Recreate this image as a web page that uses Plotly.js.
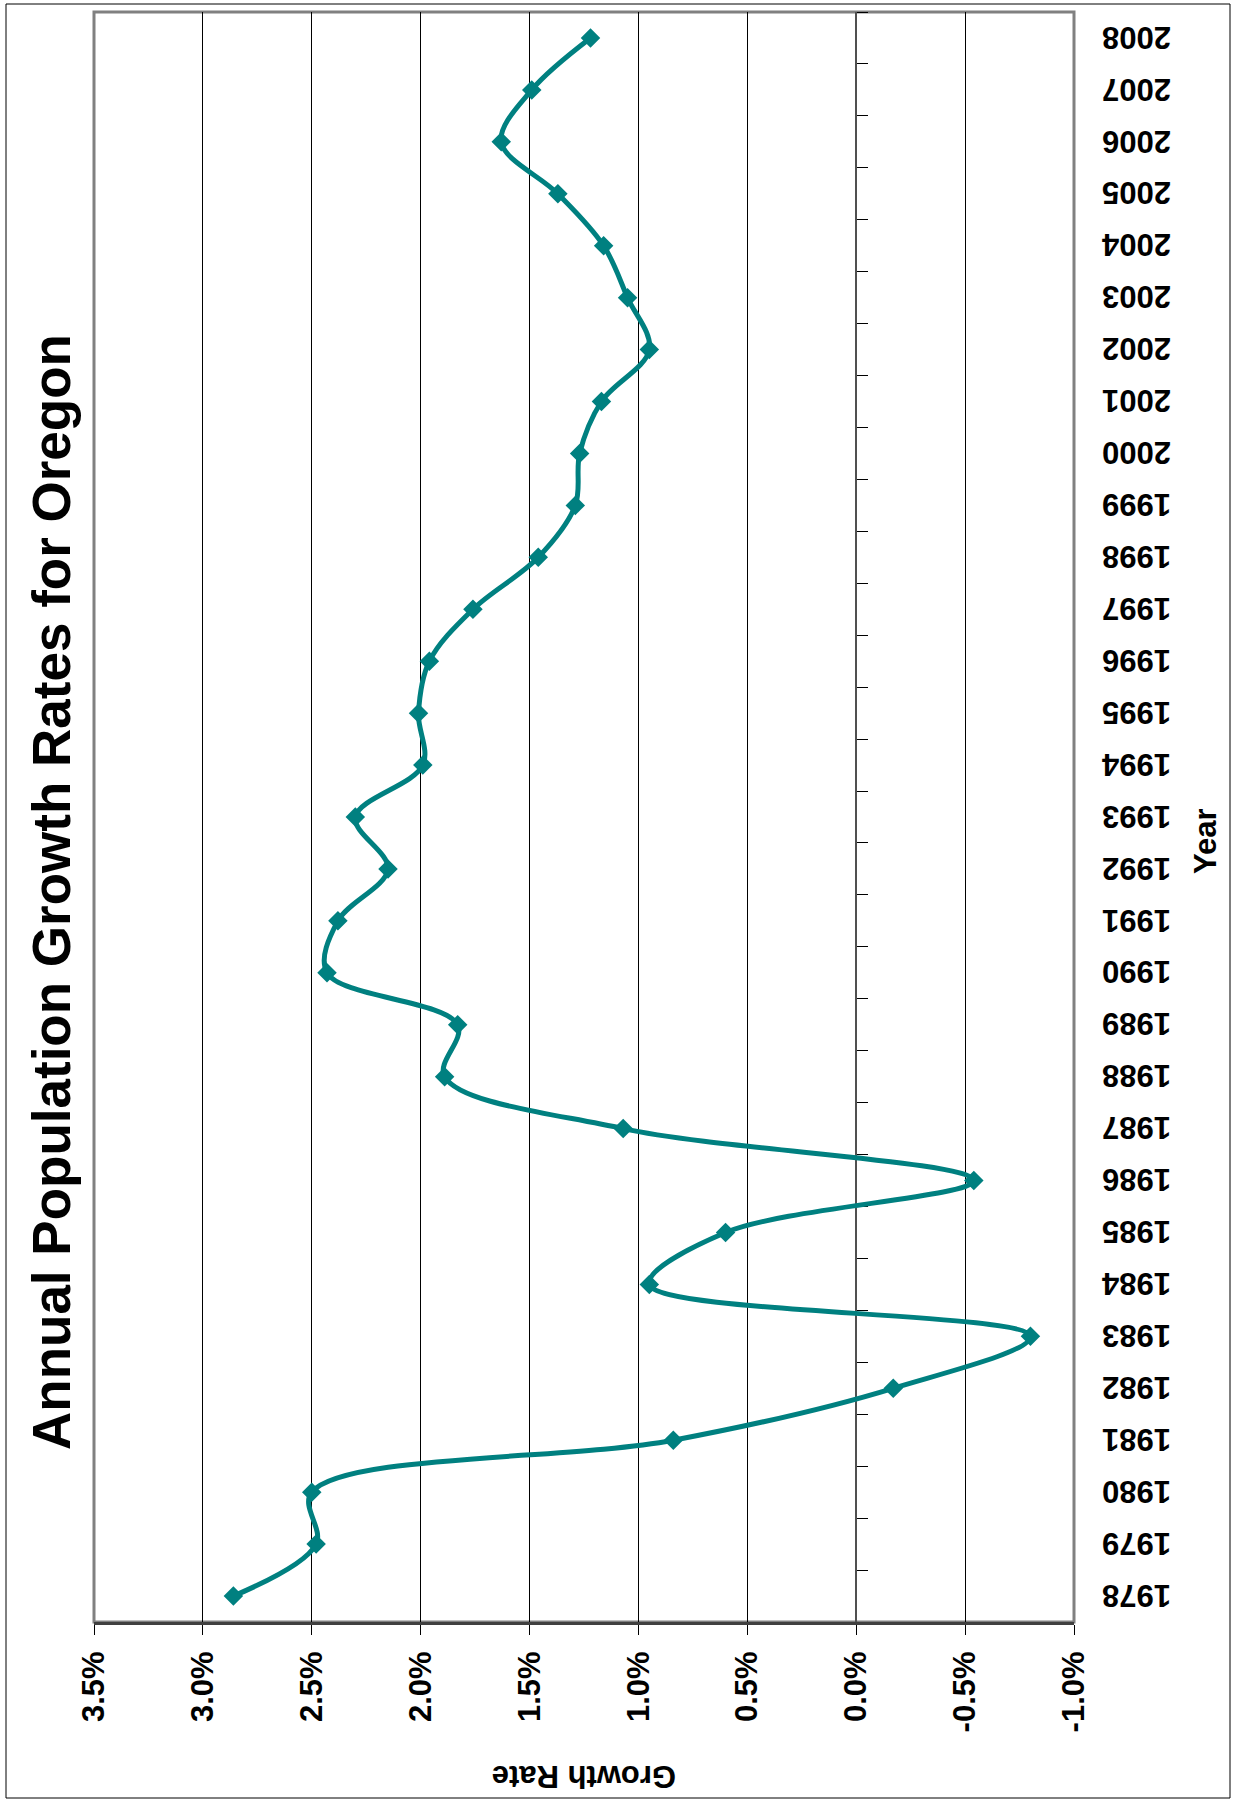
<!DOCTYPE html>
<html>
<head>
<meta charset="utf-8">
<script src="https://cdn.plot.ly/plotly-3.0.1.min.js"></script>
<style>
  html, body { margin: 0; padding: 0; background: #ffffff; }
  #chart { width: 1233px; height: 1801px; }
</style>
</head>
<body>
<div id="chart"></div>
<script>
// ---- data ----
const years = [1978, 1979, 1980, 1981, 1982, 1983, 1984, 1985, 1986, 1987,
               1988, 1989, 1990, 1991, 1992, 1993, 1994, 1995, 1996, 1997,
               1998, 1999, 2000, 2001, 2002, 2003, 2004, 2005, 2006, 2007, 2008];
const growthRate = [2.86, 2.48, 2.50, 0.84, -0.17, -0.80, 0.95, 0.60, -0.54, 1.07,
                    1.89, 1.83, 2.43, 2.38, 2.15, 2.30, 1.99, 2.01, 1.96, 1.76,
                    1.46, 1.29, 1.27, 1.17, 0.95, 1.05, 1.16, 1.37, 1.63, 1.49, 1.22];
const rateTicks = [3.5, 3.0, 2.5, 2.0, 1.5, 1.0, 0.5, 0.0, -0.5, -1.0];
const rateTickText = rateTicks.map(v => v.toFixed(1) + '%');
const yearTickText = years.map(String);

const titleText = 'Annual Population Growth Rates for Oregon';
const xTitleText = 'Growth Rate';
const yTitleText = 'Year';

const FONT = '"Liberation Sans", Arial, Helvetica, sans-serif';
const TEAL = '#008080';

const W = 1233, H = 1801;
const M = { l: 94, r: 159, t: 12, b: 179 };
const plotW = W - M.l - M.r, plotH = H - M.t - M.b;
const px = x => (x - M.l) / plotW;          // page px -> paper x
const py = y => (H - M.b - y) / plotH;      // page px -> paper y
const zeroPos = (rateTicks[0] - 0) / (rateTicks[0] - rateTicks[rateTicks.length - 1]);
const yearRange = [years[0] - 0.5, years[years.length - 1] + 0.5];
const labelShift = 0.17; // upside-down labels sit slightly high; nudge the label axis

const traces = [
  { // ghost trace so the label axis exists
    x: growthRate, y: years, xaxis: 'x', yaxis: 'y',
    type: 'scatter', mode: 'lines',
    line: { color: 'rgba(0,0,0,0)', width: 0 },
    hoverinfo: 'skip', showlegend: false
  },
  {
    x: growthRate, y: years, xaxis: 'x', yaxis: 'y2',
    type: 'scatter', mode: 'lines+markers',
    name: 'Growth Rate',
    line: { color: TEAL, width: 5, shape: 'spline', smoothing: 1 },
    marker: { symbol: 'diamond', size: 15, color: TEAL, line: { width: 0 } },
    showlegend: false
  }
];

const layout = {
  width: W, height: H,
  margin: M,
  paper_bgcolor: '#ffffff',
  plot_bgcolor: '#ffffff',
  showlegend: false,
  font: { family: FONT, color: '#000000' },
  xaxis: {
    range: [rateTicks[0], rateTicks[rateTicks.length - 1]],
    tickvals: rateTicks, ticktext: rateTickText,
    tickangle: -90,
    ticks: 'outside', ticklen: 10, tickwidth: 1, tickcolor: '#000000',
    showgrid: true, gridcolor: '#000000', gridwidth: 1,
    zeroline: false,
    showline: true, linecolor: '#404040', linewidth: 3,
    tickfont: { family: FONT, size: 31, weight: 'bold', color: '#000000' },
    ticklabelstandoff: 4
  },
  yaxis: {
    range: [yearRange[0] + labelShift, yearRange[1] + labelShift],
    tickvals: years, ticktext: yearTickText,
    side: 'right', tickangle: 180,
    ticks: '', showgrid: false, zeroline: false, showline: false,
    tickfont: { family: FONT, size: 31, weight: 'bold', color: '#000000' },
    ticklabelstandoff: 96
  },
  yaxis2: {
    overlaying: 'y', anchor: 'free', position: zeroPos, side: 'right',
    range: yearRange,
    tick0: yearRange[0], dtick: 1,
    ticks: 'outside', ticklen: 11, tickwidth: 1, tickcolor: '#000000',
    showticklabels: false, showgrid: false, zeroline: false,
    showline: true, linecolor: '#505050', linewidth: 2,
    layer: 'below traces'
  },
  shapes: [
    { type: 'rect', xref: 'paper', yref: 'paper', x0: 0, x1: 1, y0: 0, y1: 1,
      line: { color: '#808080', width: 3 }, layer: 'below' },
    { type: 'rect', xref: 'paper', yref: 'paper',
      x0: px(6), x1: px(1230), y0: py(1798), y1: py(4),
      line: { color: '#000000', width: 1 }, layer: 'below' }
  ],
  annotations: [
    { text: titleText, xref: 'paper', yref: 'paper', x: px(52), y: py(892),
      xanchor: 'center', yanchor: 'middle', textangle: -90, showarrow: false,
      font: { family: FONT, size: 53, weight: 'bold', color: '#000000' } },
    { text: xTitleText, xref: 'paper', yref: 'paper', x: px(584), y: py(1776),
      xanchor: 'center', yanchor: 'middle', textangle: 180, showarrow: false,
      font: { family: FONT, size: 31, weight: 'bold', color: '#000000' } },
    { text: yTitleText, xref: 'paper', yref: 'paper', x: px(1205), y: py(841),
      xanchor: 'center', yanchor: 'middle', textangle: -90, showarrow: false,
      font: { family: FONT, size: 31, weight: 'bold', color: '#000000' } }
  ]
};

Plotly.newPlot('chart', traces, layout, { staticPlot: true, displayModeBar: false });
</script>
</body>
</html>
